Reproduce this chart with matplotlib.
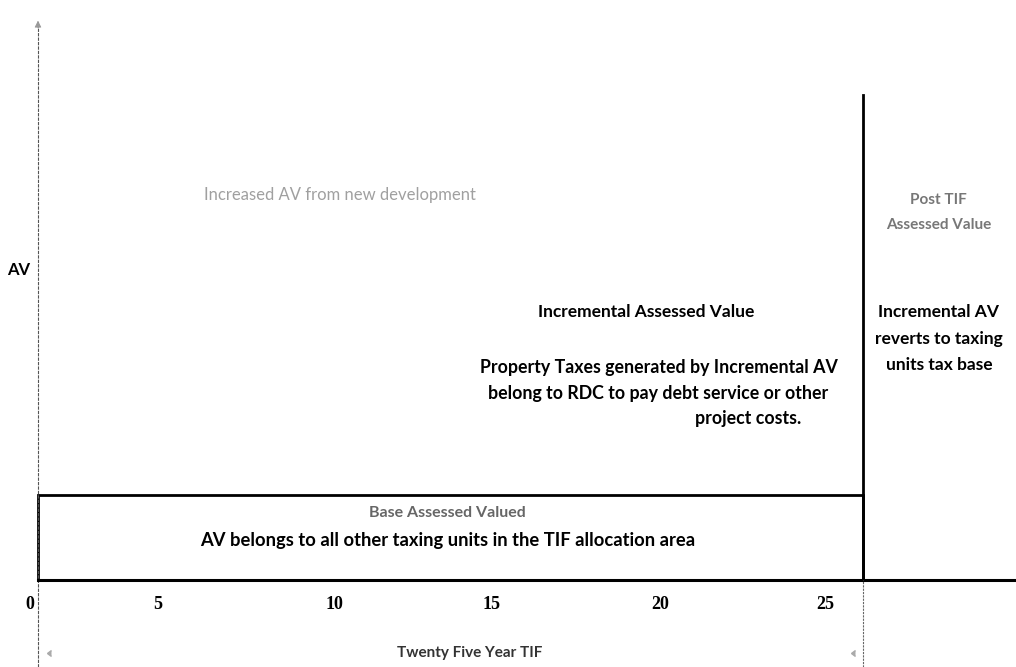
import matplotlib.pyplot as plt
from matplotlib.patches import Rectangle

# values
year_labels = [0, 5, 10, 15, 20, 25]
year_tick_pos = [0, 3.8, 9.4, 14.4, 19.75, 25]   # where the scan puts each label
tif_end = 26.2          # end of the 25 year TIF period (vertical line)
base_av = 1.0           # base assessed value (height of the base box)
post_line_top = 5.7     # top of the end-of-TIF line
axis_top = 6.56

narrow = ['Lato', 'DejaVu Sans']
serif = ['Liberation Serif', 'DejaVu Serif']

fig = plt.figure(figsize=(10.16, 6.67), dpi=100)
ax = fig.add_axes([0, 0, 1, 1])
ax.set_xlim(-1.206, 31.05)
ax.set_ylim(-1.02, 6.82)
ax.axis('off')

# y axis (thin dotted scan line) with arrow
ax.plot([0, 0], [-1.02, axis_top], color='#555555', lw=0.8, ls=(0, (3, 1)))
ax.annotate('', xy=(0, axis_top + 0.05), xytext=(0, axis_top - 0.1),
            arrowprops=dict(arrowstyle='-|>', color='#999999', lw=0.6))

# baseline
ax.plot([0, 31.05], [0, 0], color='black', lw=2.2)

# base assessed value box
ax.add_patch(Rectangle((0, 0), tif_end, base_av, fill=False,
                       edgecolor='black', lw=2))

# end of TIF line
ax.plot([tif_end, tif_end], [0, post_line_top], color='black', lw=2)
ax.plot([tif_end, tif_end], [-1.02, 0], color='#666666', lw=0.8,
        ls=(0, (2, 1)))

# faded arrow heads of the 25 year span
ax.plot([0.3], [-0.85], marker=4, color='#aaaaaa', ms=4, ls='none')
ax.plot([tif_end - 0.4], [-0.85], marker=4, color='#aaaaaa', ms=4,
        ls='none')

# x tick labels
for pos, lab in zip(year_tick_pos, year_labels):
    xp = pos if lab else -0.25
    ax.text(xp, -0.28, str(lab), ha='center', va='center', fontsize=13,
            fontweight='bold', family=serif)

ax.text(-0.6, 3.65, 'AV', ha='center', va='center', fontsize=12,
        fontweight='bold', family=narrow)

ax.text(9.6, 4.53, 'Increased AV from new development', ha='center',
        va='center', fontsize=12, color='#a0a0a0', family=narrow)

ax.text(19.3, 3.15, 'Incremental Assessed Value', ha='center', va='center',
        fontsize=12.5, fontweight='bold', family=narrow)
ax.text(19.7, 2.5, 'Property Taxes generated by Incremental AV', ha='center',
        va='center', fontsize=12.8, fontweight='bold', family=narrow)
ax.text(19.7, 2.2, 'belong to RDC to pay debt service or other', ha='center',
        va='center', fontsize=12.8, fontweight='bold', family=narrow)
ax.text(22.55, 1.9, 'project costs.', ha='center', va='center',
        fontsize=12.8, fontweight='bold', family=narrow)

ax.text(28.6, 4.47, 'Post TIF', ha='center', va='center', fontsize=11,
        fontweight='bold', color='#777777', family=narrow)
ax.text(28.6, 4.17, 'Assessed Value', ha='center', va='center', fontsize=11,
        fontweight='bold', color='#777777', family=narrow)

for i, line in enumerate(['Incremental AV', 'reverts to taxing',
                          'units tax base']):
    ax.text(28.6, 3.15 - 0.31 * i, line, ha='center', va='center',
            fontsize=12.5, fontweight='bold', family=narrow)

ax.text(13.0, 0.79, 'Base Assessed Valued', ha='center', va='center',
        fontsize=11.5, fontweight='bold', color='#666666', family=narrow)
ax.text(13.0, 0.47,
        'AV belongs to all other taxing units in the TIF allocation area',
        ha='center', va='center', fontsize=13.2, fontweight='bold',
        family=narrow)

ax.text(13.7, -0.85, 'Twenty Five Year TIF', ha='center', va='center',
        fontsize=11, fontweight='bold', color='#333333', family=narrow)

fig.savefig('out.png', dpi=100, facecolor='white')
